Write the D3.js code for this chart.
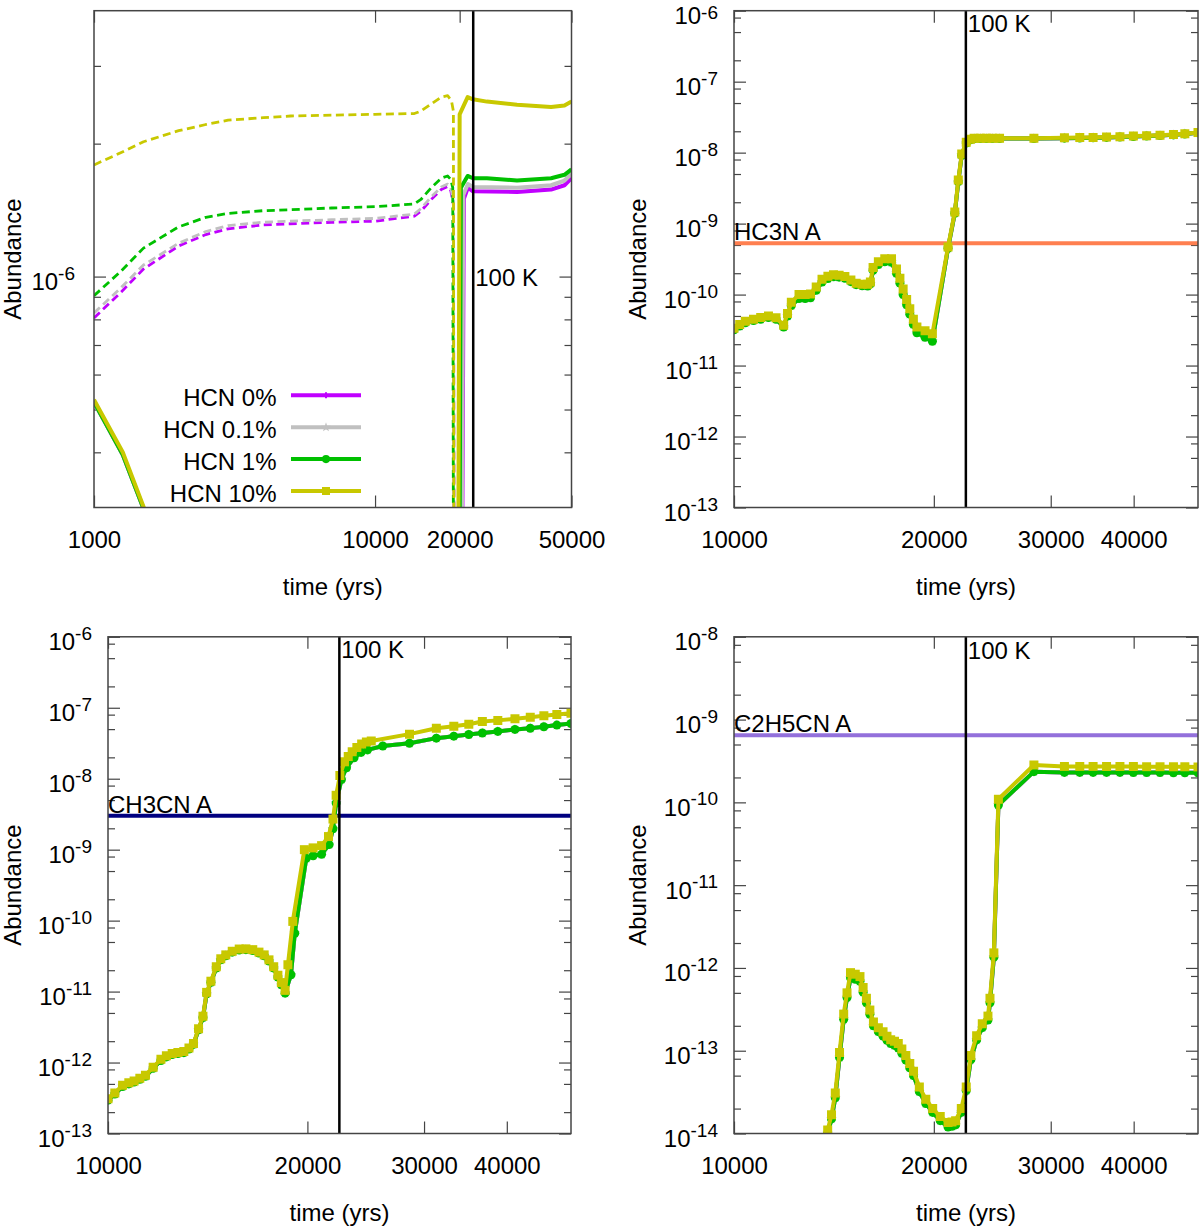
<!DOCTYPE html>
<html>
<head>
<meta charset="utf-8">
<script src="https://cdn.jsdelivr.net/npm/d3@7"></script>
<style>
    body { margin: 0; background: #fff; }
    svg { font-family: "Liberation Sans", Arial, Helvetica, sans-serif; }
</style>
</head>
<body>
<svg id="chart" width="1200" height="1228"></svg>
<script>

/* ------------------------- DATA ------------------------- */

const hcnNames = ["HCN 0%", "HCN 0.1%", "HCN 1%", "HCN 10%"]

const tempTime = 22350                                  // 100 K
const tempLabelY = [1e-6, 6.7e-7, 6.7e-7, 6.9e-9]       // where the "100 K" label sits in each panel

const xTicksWide = [1000, 10000, 20000, 50000]
const xTicksNarrow = [10000, 20000, 30000, 40000]

const obsNames = ["HC3N A", "CH3CN A", "C2H5CN A"]
const obsValues = [5.3e-10, 3.0e-9, 6.45e-10]

// HCN panel, dashed curves  [time (yrs), abundance]
const hcnDash0 = [[1000, 8.06e-7], [1250, 9.23e-7], [1500, 1.04e-6], [2000, 1.173e-6], [2500, 1.245e-6], [3000, 1.283e-6],
    [4000, 1.309e-6], [5000, 1.317e-6], [7000, 1.327e-6], [10000, 1.335e-6], [13800, 1.37e-6], [14560, 1.406e-6],
    [15850, 1.495e-6], [17200, 1.574e-6], [18120, 1.6e-6], [18600, 1.565e-6], [19000, 1.457e-6], [19150, 1e-7]]
const hcnDash01 = [[1000, 8.27e-7], [1250, 9.45e-7], [1500, 1.062e-6], [2000, 1.19e-6], [2500, 1.265e-6], [3000, 1.304e-6],
    [4000, 1.328e-6], [5000, 1.335e-6], [7000, 1.345e-6], [10000, 1.354e-6], [13800, 1.385e-6], [14560, 1.425e-6],
    [15850, 1.515e-6], [17200, 1.595e-6], [18120, 1.62e-6], [18600, 1.59e-6], [19000, 1.48e-6], [19150, 1e-7]]
const hcnDash1 = [[1000, 9.05e-7], [1250, 1.03e-6], [1500, 1.16e-6], [2000, 1.296e-6], [2500, 1.362e-6], [3000, 1.39e-6],
    [4000, 1.41e-6], [5000, 1.417e-6], [7000, 1.43e-6], [10000, 1.44e-6], [13800, 1.46e-6], [14560, 1.495e-6],
    [15850, 1.59e-6], [17200, 1.67e-6], [18120, 1.69e-6], [18600, 1.66e-6], [18900, 1.59e-6], [19050, 1e-7]]
const hcnDash10 = [[1000, 1.79e-6], [1250, 1.91e-6], [1500, 2.02e-6], [2000, 2.14e-6], [2500, 2.21e-6], [3000, 2.26e-6],
    [4000, 2.29e-6], [5000, 2.31e-6], [7000, 2.32e-6], [10000, 2.33e-6], [13800, 2.34e-6], [14560, 2.37e-6],
    [15850, 2.46e-6], [17200, 2.55e-6], [18120, 2.57e-6], [18700, 2.5e-6], [19000, 2.37e-6], [19100, 1e-7]]

// HCN panel, solid curves
const hcnSolid0 = [[1000, 5.2e-7], [1266, 3.95e-7], [1504, 2.97e-7], [1600, 2.7e-7], [20300, 1e-7], [20700, 1.5e-6],
    [21400, 1.59e-6], [22300, 1.56e-6], [32000, 1.555e-6], [42300, 1.574e-6], [47200, 1.61e-6], [50000, 1.67e-6]]
const hcnSolid01 = [[1000, 5.2e-7], [1266, 3.95e-7], [1504, 2.97e-7], [1600, 2.7e-7], [20250, 1e-7], [20600, 1.53e-6],
    [21400, 1.62e-6], [22300, 1.595e-6], [32000, 1.59e-6], [42300, 1.61e-6], [47200, 1.65e-6], [50000, 1.71e-6]]
const hcnSolid1 = [[1000, 5.2e-7], [1266, 3.95e-7], [1504, 2.97e-7], [1600, 2.7e-7], [19900, 1e-7], [20200, 1.59e-6],
    [21350, 1.69e-6], [22300, 1.67e-6], [25000, 1.67e-6], [32000, 1.65e-6], [42300, 1.67e-6], [47200, 1.70e-6], [50000, 1.75e-6]]
const hcnSolid10 = [[1000, 5.26e-7], [1266, 4.0e-7], [1504, 3.0e-7], [1600, 2.7e-7], [19700, 1e-7], [20000, 2.33e-6],
    [21350, 2.55e-6], [22300, 2.52e-6], [25000, 2.49e-6], [32000, 2.45e-6], [42300, 2.42e-6], [47200, 2.44e-6], [50000, 2.49e-6]]

// HC3N panel (0% and 0.1% lie under the 1% curve)
const hc3n1 = [[10000, 3.2e-11], [10200, 3.6e-11], [10400, 4.0e-11], [10700, 4.3e-11], [10970, 4.5e-11], [11270, 4.75e-11],
    [11570, 4.5e-11], [11880, 3.5e-11], [12040, 5.0e-11], [12200, 7.0e-11], [12530, 8.8e-11], [12800, 8.8e-11],
    [13040, 9.0e-11], [13300, 1.15e-10], [13570, 1.5e-10], [13850, 1.68e-10], [14120, 1.78e-10], [14400, 1.76e-10],
    [14690, 1.7e-10], [15000, 1.52e-10], [15280, 1.38e-10], [15600, 1.33e-10], [15900, 1.32e-10], [16050, 1.42e-10],
    [16200, 2.2e-10], [16500, 2.65e-10], [16870, 2.9e-10], [17270, 2.85e-10], [17570, 2.0e-10], [17780, 1.45e-10],
    [17980, 1.0e-10], [18200, 7.2e-11], [18400, 5.3e-11], [18630, 3.8e-11], [18860, 2.9e-11], [19400, 2.5e-11],
    [19900, 2.2e-11], [21010, 4.5e-10], [21510, 1.4e-9], [21770, 3.9e-9], [22030, 9.2e-9], [22380, 1.37e-8],
    [22700, 1.52e-8], [23000, 1.57e-8], [23500, 1.58e-8], [24000, 1.58e-8], [24500, 1.58e-8], [25120, 1.58e-8],
    [28300, 1.58e-8], [31460, 1.6e-8], [33180, 1.61e-8], [34750, 1.62e-8], [36410, 1.64e-8], [38140, 1.66e-8],
    [39960, 1.69e-8], [41840, 1.71e-8], [43830, 1.74e-8], [45920, 1.78e-8], [47770, 1.83e-8], [50000, 1.9e-8]]
const hc3n10 = [[10000, 3.35e-11], [10200, 3.8e-11], [10400, 4.2e-11], [10700, 4.5e-11], [10970, 4.75e-11], [11270, 5.0e-11],
    [11570, 4.7e-11], [11880, 3.7e-11], [12040, 5.4e-11], [12200, 7.8e-11], [12530, 1.0e-10], [12800, 1.0e-10],
    [13040, 1.02e-10], [13300, 1.28e-10], [13570, 1.64e-10], [13850, 1.82e-10], [14120, 1.9e-10], [14400, 1.88e-10],
    [14690, 1.8e-10], [15000, 1.6e-10], [15280, 1.45e-10], [15600, 1.4e-10], [15900, 1.4e-10], [16050, 1.5e-10],
    [16200, 2.4e-10], [16500, 2.9e-10], [16870, 3.2e-10], [17270, 3.2e-10], [17570, 2.3e-10], [17780, 1.7e-10],
    [17980, 1.2e-10], [18200, 8.5e-11], [18400, 6.3e-11], [18630, 4.5e-11], [18860, 3.5e-11], [19400, 3.1e-11],
    [19900, 2.8e-11], [21010, 4.7e-10], [21510, 1.46e-9], [21770, 4.1e-9], [22030, 9.6e-9], [22380, 1.4e-8],
    [22700, 1.55e-8], [23000, 1.6e-8], [23500, 1.6e-8], [24000, 1.6e-8], [24500, 1.6e-8], [25120, 1.6e-8],
    [28300, 1.6e-8], [31460, 1.62e-8], [33180, 1.63e-8], [34750, 1.64e-8], [36410, 1.66e-8], [38140, 1.68e-8],
    [39960, 1.71e-8], [41840, 1.73e-8], [43830, 1.76e-8], [45920, 1.8e-8], [47770, 1.85e-8], [50000, 1.92e-8]]

// CH3CN panel
const ch3cn1 = [[10000, 2.95e-13], [10240, 3.6e-13], [10520, 4.6e-13], [10750, 5.0e-13], [10950, 5.3e-13], [11170, 5.8e-13],
    [11390, 6.4e-13], [11700, 8.3e-13], [12020, 1.07e-12], [12250, 1.2e-12], [12500, 1.3e-12], [12750, 1.34e-12],
    [13015, 1.38e-12], [13250, 1.55e-12], [13460, 1.8e-12], [13700, 2.9e-12], [13910, 4.3e-12], [14090, 9.3e-12],
    [14300, 1.35e-11], [14570, 2.15e-11], [14800, 2.8e-11], [15060, 3.2e-11], [15400, 3.6e-11], [15780, 3.85e-11],
    [16150, 3.9e-11], [16540, 3.8e-11], [16900, 3.5e-11], [17210, 3.2e-11], [17500, 2.7e-11], [17790, 2.15e-11],
    [18050, 1.6e-11], [18270, 1.25e-11], [18510, 9.5e-12], [18890, 1.73e-11], [19140, 6.64e-11], [19920, 7.55e-10],
    [20400, 8.2e-10], [21010, 8.6e-10], [21570, 1.18e-9], [21860, 1.97e-9], [22100, 4.53e-9], [22510, 9.75e-9],
    [22910, 1.43e-8], [23520, 1.97e-8], [24100, 2.35e-8], [24650, 2.55e-8], [25990, 2.89e-8], [28520, 3.16e-8],
    [31310, 3.73e-8], [33270, 3.98e-8], [35050, 4.19e-8], [36740, 4.4e-8], [38770, 4.64e-8], [41150, 4.95e-8],
    [43400, 5.14e-8], [45500, 5.41e-8], [47600, 5.7e-8], [50000, 6.0e-8]]
const ch3cn10 = [[10000, 3.08e-13], [10240, 3.73e-13], [10520, 4.8e-13], [10750, 5.2e-13], [10950, 5.48e-13], [11170, 6.0e-13],
    [11390, 6.64e-13], [11700, 8.6e-13], [12020, 1.11e-12], [12250, 1.25e-12], [12500, 1.34e-12], [12750, 1.38e-12],
    [13015, 1.43e-12], [13250, 1.6e-12], [13460, 1.85e-12], [13700, 3.0e-12], [13910, 4.5e-12], [14090, 9.75e-12],
    [14300, 1.4e-11], [14570, 2.24e-11], [14800, 2.9e-11], [15060, 3.29e-11], [15400, 3.7e-11], [15780, 3.98e-11],
    [16150, 4.0e-11], [16540, 3.9e-11], [16900, 3.6e-11], [17210, 3.29e-11], [17500, 2.8e-11], [17790, 2.24e-11],
    [18050, 1.7e-11], [18270, 1.34e-11], [18510, 1.04e-11], [18690, 2.39e-11], [19010, 9.75e-11], [19790, 1.0e-9],
    [20400, 1.06e-9], [21010, 1.14e-9], [21520, 1.53e-9], [21860, 2.7e-9], [22100, 5.84e-9], [22390, 1.11e-8],
    [22750, 1.73e-8], [23050, 2.05e-8], [23370, 2.39e-8], [23750, 2.75e-8], [24150, 3.08e-8], [24550, 3.3e-8],
    [24970, 3.41e-8], [28520, 4.25e-8], [31310, 5.14e-8], [33270, 5.48e-8], [35050, 5.85e-8], [36740, 6.4e-8],
    [38770, 6.64e-8], [41150, 6.99e-8], [43400, 7.36e-8], [45500, 7.74e-8], [47600, 8.05e-8], [50000, 8.36e-8]]

// C2H5CN panel
const c2h5cn1 = [[13840, 1.0e-14], [14025, 1.5e-14], [14210, 2.7e-14], [14420, 8.3e-14], [14630, 2.4e-13], [14800, 4.4e-13],
    [14980, 7.6e-13], [15230, 7.3e-13], [15480, 6.9e-13], [15650, 5.1e-13], [15830, 3.8e-13], [16020, 2.75e-13],
    [16220, 2.0e-13], [16500, 1.7e-13], [16770, 1.5e-13], [17000, 1.34e-13], [17220, 1.22e-13], [17450, 1.16e-13],
    [17680, 1.08e-13], [17900, 9.3e-14], [18150, 7.7e-14], [18400, 6.2e-14], [18640, 5.0e-14], [19020, 3.2e-14],
    [19450, 2.3e-14], [19920, 1.8e-14], [20450, 1.43e-14], [21010, 1.2e-14], [21300, 1.22e-14], [21570, 1.27e-14],
    [22000, 1.8e-14], [22380, 3.3e-14], [22740, 7.8e-14], [23200, 1.35e-13], [23660, 1.9e-13], [24130, 2.35e-13],
    [24300, 3.8e-13], [24630, 1.35e-12], [25020, 9.3e-11], [28300, 2.35e-10], [31460, 2.3e-10], [33180, 2.3e-10],
    [34750, 2.3e-10], [36410, 2.3e-10], [38140, 2.3e-10], [39960, 2.29e-10], [41840, 2.29e-10], [43830, 2.29e-10],
    [45920, 2.28e-10], [47770, 2.28e-10], [50000, 2.28e-10]]
const c2h5cn10 = [[13840, 1.1e-14], [14025, 1.69e-14], [14210, 3.09e-14], [14420, 9.5e-14], [14630, 2.77e-13], [14800, 5.0e-13],
    [14980, 8.77e-13], [15230, 8.4e-13], [15480, 7.86e-13], [15650, 5.8e-13], [15830, 4.3e-13], [16020, 3.1e-13],
    [16220, 2.23e-13], [16500, 1.9e-13], [16770, 1.69e-13], [17000, 1.5e-13], [17220, 1.36e-13], [17450, 1.3e-13],
    [17680, 1.22e-13], [17900, 1.05e-13], [18150, 8.77e-14], [18400, 7.0e-14], [18640, 5.65e-14], [19020, 3.65e-14],
    [19450, 2.6e-14], [19920, 2.0e-14], [20450, 1.6e-14], [21010, 1.36e-14], [21300, 1.38e-14], [21570, 1.43e-14],
    [22000, 2.0e-14], [22380, 3.65e-14], [22740, 8.77e-14], [23200, 1.52e-13], [23660, 2.11e-13], [24130, 2.62e-13],
    [24300, 4.3e-13], [24630, 1.52e-12], [25020, 1.09e-10], [28300, 2.83e-10], [31460, 2.72e-10], [33180, 2.72e-10],
    [34750, 2.72e-10], [36410, 2.71e-10], [38140, 2.71e-10], [39960, 2.71e-10], [41840, 2.7e-10], [43830, 2.7e-10],
    [45920, 2.69e-10], [47770, 2.69e-10], [50000, 2.68e-10]]

/* ------------------------- STYLE / LAYOUT ------------------------- */

const hcnColors = ["#c000ff", "#c0c0c0", "#00c000", "#c8c800"]
const hcnSymbols = [d3.symbolCross, d3.symbolStar, d3.symbolCircle, d3.symbolSquare]
const hcnSymbolSizes = [26, 36, 64, 81]
const obsColors = ["#ff7f50", "#000080", "#9370db"]

let panels = [
    { left: 94, right: 571.5, top: 10.7, bottom: 507.5, xDomain: [1000, 50000], yDomain: [3e-7, 4e-6],
      xTicks: xTicksWide, minor: [2, 3, 4, 5, 6, 7, 8, 9], tickPad: 19, yTitleX: 21, markers: false, obs: null,
      series: [
          { values: hcnSolid0, k: 0 }, { values: hcnSolid01, k: 1 }, { values: hcnSolid1, k: 2 }, { values: hcnSolid10, k: 3 },
          { values: hcnDash0, k: 0, dashed: true }, { values: hcnDash01, k: 1, dashed: true },
          { values: hcnDash1, k: 2, dashed: true }, { values: hcnDash10, k: 3, dashed: true }] },
    { left: 734, right: 1198, top: 10.7, bottom: 507.5, xDomain: [10000, 50000], yDomain: [1e-13, 1e-6],
      xTicks: xTicksNarrow, minor: [2, 5, 8], tickPad: 16, yTitleX: 646, markers: true, obs: 0,
      series: [{ values: hc3n1, k: 0 }, { values: hc3n1, k: 1 }, { values: hc3n1, k: 2 }, { values: hc3n10, k: 3 }] },
    { left: 108, right: 571, top: 636.8, bottom: 1133.5, xDomain: [10000, 50000], yDomain: [1e-13, 1e-6],
      xTicks: xTicksNarrow, minor: [2, 5, 8], tickPad: 16, yTitleX: 21, markers: true, obs: 1,
      series: [{ values: ch3cn1, k: 0 }, { values: ch3cn1, k: 1 }, { values: ch3cn1, k: 2 }, { values: ch3cn10, k: 3 }] },
    { left: 734, right: 1198, top: 636.8, bottom: 1133.5, xDomain: [10000, 50000], yDomain: [1e-14, 1e-8],
      xTicks: xTicksNarrow, minor: [2, 5, 8], tickPad: 16, yTitleX: 646, markers: true, obs: 2,
      series: [{ values: c2h5cn1, k: 0 }, { values: c2h5cn1, k: 1 }, { values: c2h5cn1, k: 2 }, { values: c2h5cn10, k: 3 }] }
]

const svg = d3.select("#chart")

panels.forEach(drawPanel)
drawLegend()

/* ------------------------- HELPERS ------------------------- */

function decadeTicks(domain, mults) {
    let major = [], minor = []
    let lo = Math.floor(Math.log10(domain[0])), hi = Math.ceil(Math.log10(domain[1]))
    for (let e = lo; e <= hi; e++) {
        let base = Math.pow(10, e)
        if (base >= domain[0] * 0.999 && base <= domain[1] * 1.001) major.push(base)
        mults.forEach(function (m) {
            let v = m * base
            if (v > domain[0] * 1.001 && v < domain[1] * 0.999) minor.push(v)
        })
    }
    return { major: major, minor: minor }
}

function styleAxis(sel) {
    sel.attr("font-family", null).attr("font-size", 24)
    sel.select(".domain").remove()
    sel.selectAll(".tick line").attr("stroke", "#444").attr("stroke-width", 1.2)
    sel.selectAll(".tick text").attr("fill", "#000")
    return sel
}

// "10" with the exponent raised, like the gnuplot enhanced labels
// (the exponent is kept inside the picture when the tick sits at its very top)
function powerLabels(sel, y) {
    sel.selectAll(".tick text").attr("dy", 13).each(function (d) {
        let t = d3.select(this).text(null)
        let rise = Math.min(10.5, y(d) + 13 - 18)
        t.append("tspan").text("10")
        t.append("tspan").attr("dy", -rise).attr("font-size", 19).text(Math.round(Math.log10(d)))
    })
}

/* ------------------------- PANELS ------------------------- */

function drawPanel(p, i) {
    let x = d3.scaleLog().domain(p.xDomain).range([p.left, p.right])
    let y = d3.scaleLog().domain(p.yDomain).range([p.bottom, p.top])
    let g = svg.append("g").attr("class", "panel")

    g.append("clipPath").attr("id", "clip" + i)
        .append("rect")
        .attr("x", p.left).attr("y", p.top)
        .attr("width", p.right - p.left).attr("height", p.bottom - p.top)

    /* --------------------- AXES --------------------- */

    let yt = decadeTicks(p.yDomain, p.minor)

    let left = g.append("g").attr("transform", `translate(${p.left},0)`)
        .call(d3.axisLeft(y).tickValues(yt.major).tickSize(-12).tickSizeOuter(0).tickPadding(p.tickPad))
    styleAxis(left)
    powerLabels(left, y)

    styleAxis(g.append("g").attr("transform", `translate(${p.left},0)`)
        .call(d3.axisLeft(y).tickValues(yt.minor).tickSize(-7).tickSizeOuter(0).tickFormat("")))
    styleAxis(g.append("g").attr("transform", `translate(${p.right},0)`)
        .call(d3.axisRight(y).tickValues(yt.major).tickSize(-12).tickSizeOuter(0).tickFormat("")))
    styleAxis(g.append("g").attr("transform", `translate(${p.right},0)`)
        .call(d3.axisRight(y).tickValues(yt.minor).tickSize(-7).tickSizeOuter(0).tickFormat("")))

    styleAxis(g.append("g").attr("transform", `translate(0,${p.bottom})`)
        .call(d3.axisBottom(x).tickValues(p.xTicks).tickSize(-12).tickSizeOuter(0).tickPadding(23.5).tickFormat(d3.format("d"))))
    styleAxis(g.append("g").attr("transform", `translate(0,${p.top})`)
        .call(d3.axisTop(x).tickValues(p.xTicks).tickSize(-12).tickSizeOuter(0).tickFormat("")))

    /* --------------------- OBSERVED ABUNDANCE --------------------- */

    if (p.obs !== null) {
        let oy = y(obsValues[p.obs])
        g.append("line")
            .attr("x1", p.left).attr("x2", p.right).attr("y1", oy).attr("y2", oy)
            .attr("stroke", obsColors[p.obs]).attr("stroke-width", 4)
        g.append("text").attr("x", p.left).attr("y", oy - 3)
            .attr("font-size", 24).text(obsNames[p.obs])
    }

    /* --------------------- MODEL CURVES --------------------- */

    let plot = g.append("g").attr("clip-path", `url(#clip${i})`)
    let line = d3.line().x(function (d) { return x(d[0]) }).y(function (d) { return y(d[1]) })

    p.series.forEach(function (s) {
        plot.append("path").datum(s.values)
            .attr("d", line)
            .attr("fill", "none")
            .attr("stroke", hcnColors[s.k])
            .attr("stroke-width", s.dashed ? 2.8 : 4)
            .attr("stroke-dasharray", s.dashed ? "8,4.5" : null)
            .attr("stroke-linejoin", "round")

        if (p.markers) {
            plot.selectAll(null).data(s.values).enter().append("path")
                .attr("transform", function (d) { return `translate(${x(d[0])},${y(d[1])})` })
                .attr("d", d3.symbol(hcnSymbols[s.k], hcnSymbolSizes[s.k]))
                .attr("fill", hcnColors[s.k])
        }
    })

    /* --------------------- 100 K LINE --------------------- */

    let tx = x(tempTime)
    g.append("line")
        .attr("x1", tx).attr("x2", tx).attr("y1", p.top).attr("y2", p.bottom)
        .attr("stroke", "#000").attr("stroke-width", 2.5)
    g.append("text").attr("x", tx + 2).attr("y", y(tempLabelY[i]) + 9)
        .attr("font-size", 24).text("100 K")

    /* --------------------- FRAME + TITLES --------------------- */

    g.append("rect")
        .attr("x", p.left).attr("y", p.top)
        .attr("width", p.right - p.left).attr("height", p.bottom - p.top)
        .attr("fill", "none").attr("stroke", "#444").attr("stroke-width", 1.5)

    g.append("text")
        .attr("x", (p.left + p.right) / 2).attr("y", p.bottom + 87.5)
        .attr("text-anchor", "middle").attr("font-size", 24)
        .text("time (yrs)")

    g.append("text")
        .attr("transform", `translate(${p.yTitleX},${(p.top + p.bottom) / 2}) rotate(-90)`)
        .attr("text-anchor", "middle").attr("font-size", 24)
        .text("Abundance")
}

/* ------------------------- LEGEND ------------------------- */

function drawLegend() {
    let lg = svg.append("g").attr("font-size", 24)
    hcnNames.forEach(function (name, k) {
        let ly = 395.3 + k * 31.9
        lg.append("text").attr("x", 276.5).attr("y", ly + 10.5).attr("text-anchor", "end").text(name)
        lg.append("line").attr("x1", 291).attr("x2", 361).attr("y1", ly).attr("y2", ly)
            .attr("stroke", hcnColors[k]).attr("stroke-width", 4)
        lg.append("path").attr("transform", `translate(326,${ly})`)
            .attr("d", d3.symbol(hcnSymbols[k], hcnSymbolSizes[k] * 0.8)())
            .attr("fill", hcnColors[k])
    })
}

</script>
</body>
</html>
